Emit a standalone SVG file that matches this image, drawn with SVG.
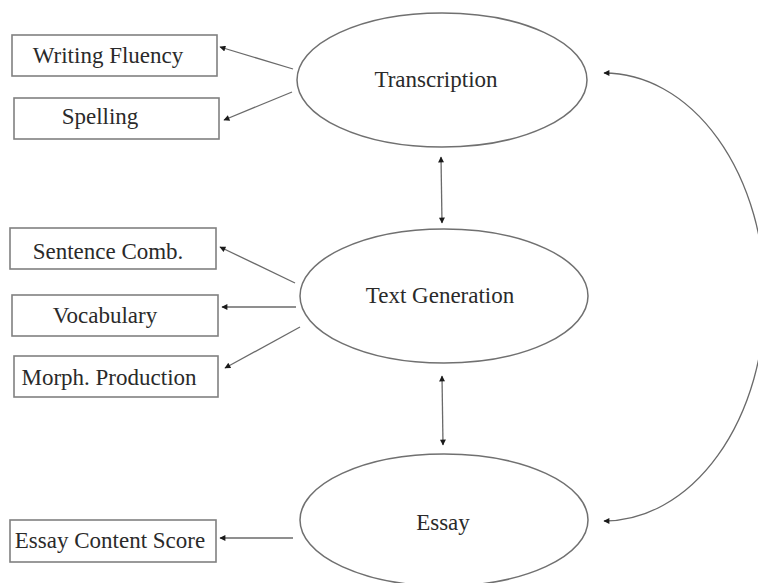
<svg xmlns="http://www.w3.org/2000/svg" width="758" height="583" viewBox="0 0 758 583">
<defs>
<style>
.box{fill:#fff;stroke:#808080;stroke-width:1.6}
.ell{fill:#fff;stroke:#707070;stroke-width:1.5}
.t{font-family:"Liberation Serif","Times New Roman",serif;font-size:23px;fill:#2a2a2a;text-anchor:middle}
.c{fill:none;stroke:#6a6a6a;stroke-width:1.3}
</style>
<marker id="ah" viewBox="0 0 10 10" refX="9" refY="5" markerWidth="7" markerHeight="6" markerUnits="userSpaceOnUse" orient="auto-start-reverse">
<path d="M0,0 L10,5 L0,10 z" fill="#1a1a1a"/>
</marker>
</defs>
<rect width="758" height="583" fill="#fff"/>
<g id="connectors">
<line class="c" x1="293" y1="69" x2="220" y2="47" marker-end="url(#ah)"/>
<line class="c" x1="292" y1="92" x2="224" y2="120" marker-end="url(#ah)"/>
<line class="c" x1="441" y1="157" x2="442" y2="223" marker-start="url(#ah)" marker-end="url(#ah)"/>
<line class="c" x1="295" y1="283" x2="220" y2="247" marker-end="url(#ah)"/>
<line class="c" x1="296" y1="307" x2="222" y2="307" marker-end="url(#ah)"/>
<line class="c" x1="300" y1="327" x2="225" y2="368" marker-end="url(#ah)"/>
<line class="c" x1="442" y1="376" x2="443" y2="445" marker-start="url(#ah)" marker-end="url(#ah)"/>
<line class="c" x1="293" y1="538" x2="220" y2="538" marker-end="url(#ah)"/>
<path class="c" d="M604,73 A161,224 0 0 1 604,521" marker-start="url(#ah)" marker-end="url(#ah)"/>
</g>
<g id="transcription">
<ellipse class="ell" cx="442" cy="80" rx="145" ry="67"/>
<text class="t" x="436" y="87">Transcription</text>
</g>
<g id="text-generation">
<ellipse class="ell" cx="444" cy="296" rx="144" ry="67"/>
<text class="t" x="440" y="303">Text Generation</text>
</g>
<g id="essay">
<ellipse class="ell" cx="444" cy="520" rx="144" ry="66"/>
<text class="t" x="443" y="530">Essay</text>
</g>
<g id="writing-fluency">
<rect class="box" x="12" y="35" width="205" height="41"/>
<text class="t" x="108" y="63">Writing Fluency</text>
</g>
<g id="spelling">
<rect class="box" x="14" y="98" width="205" height="41"/>
<text class="t" x="100" y="124">Spelling</text>
</g>
<g id="sentence-comb">
<rect class="box" x="10" y="228" width="206" height="41"/>
<text class="t" x="108" y="259">Sentence Comb.</text>
</g>
<g id="vocabulary">
<rect class="box" x="12" y="295" width="206" height="41"/>
<text class="t" x="105" y="323">Vocabulary</text>
</g>
<g id="morph-production">
<rect class="box" x="14" y="356" width="204" height="41"/>
<text class="t" x="109" y="385">Morph. Production</text>
</g>
<g id="essay-content-score">
<rect class="box" x="10" y="520" width="206" height="42"/>
<text class="t" x="110" y="548">Essay Content Score</text>
</g>
</svg>
